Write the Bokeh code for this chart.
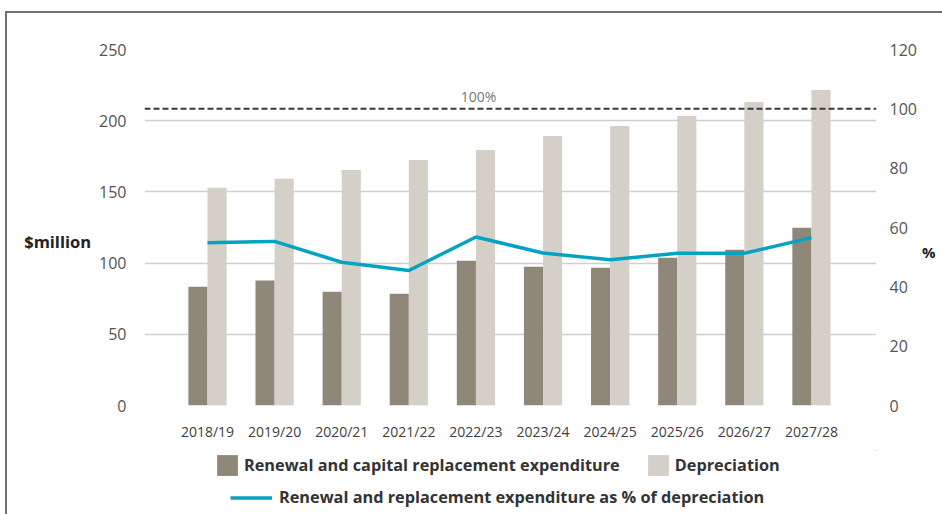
from bokeh.plotting import figure
from bokeh.layouts import column
from bokeh.models import (Range1d, LinearAxis, FixedTicker, Legend, LegendItem,
                          Span, Label, ColumnDataSource)
from bokeh.transform import dodge
from bokeh.embed import file_html
from bokeh.resources import INLINE

years = ["2018/19", "2019/20", "2020/21", "2021/22", "2022/23",
         "2023/24", "2024/25", "2025/26", "2026/27", "2027/28"]
renewal = [83.4, 87.8, 79.9, 78.5, 101.6, 97.4, 96.7, 103.7, 109.3, 124.8]
depreciation = [153.0, 159.3, 165.4, 172.4, 179.5, 189.3, 196.3, 203.3, 213.1, 221.5]
pct_of_dep = [54.9, 55.3, 48.3, 45.5, 56.8, 51.4, 49.1, 51.3, 51.3, 56.6]
left_ticks = [0, 50, 100, 150, 200, 250]
right_ticks = [0, 20, 40, 60, 80, 100, 120]
reference_pct = 100
reference_label = "100%"
legend_labels = ["Renewal and capital replacement expenditure", "Depreciation",
                 "Renewal and replacement expenditure as % of depreciation"]

DARK = "#8f8879"
LIGHT = "#d4d0c8"
TEAL = "#05a3c2"
FONT = "Open Sans"

xs = list(range(len(years)))
src = ColumnDataSource(dict(x=xs, renewal=renewal, dep=depreciation, pct=pct_of_dep))

p = figure(width=935, height=437, output_backend="svg", toolbar_location=None,
           x_range=Range1d(-0.939, 9.969), y_range=Range1d(0, 250),
           min_border_left=137, min_border_right=66, min_border_top=36,
           min_border_bottom=45)
p.outline_line_color = None
p.background_fill_color = "white"
p.extra_y_ranges = {"pct": Range1d(0, 120)}

bw = 0.285
p.vbar(x=dodge("x", -bw / 2), top="renewal", width=bw, source=src,
       fill_color=DARK, line_color=None)
p.vbar(x=dodge("x", bw / 2), top="dep", width=bw, source=src,
       fill_color=LIGHT, line_color=None)
p.line(x="x", y="pct", source=src, y_range_name="pct",
       line_color=TEAL, line_width=3.5)

p.add_layout(Span(location=reference_pct, dimension="width", y_range_name="pct",
                  line_color="#3a3a3a", line_width=2, line_dash="6 3"))
p.add_layout(Label(x=4.04, y=104, y_range_name="pct", text=reference_label,
                   text_align="center", text_baseline="middle",
                   text_font=FONT, text_font_size="14px", text_color="#767676"))

# grid
p.xgrid.grid_line_color = None
p.ygrid.grid_line_color = "#cfcfcf"
p.ygrid.grid_line_width = 1.5

# bottom axis
xa = p.xaxis[0]
xa.ticker = FixedTicker(ticks=xs)
xa.major_label_overrides = {i: y for i, y in enumerate(years)}
xa.axis_line_color = None
xa.major_tick_line_color = None
xa.minor_tick_line_color = None
xa.major_label_standoff = 10
xa.major_label_text_font = FONT
xa.major_label_text_font_size = "14px"
xa.major_label_text_color = "#404040"

# left axis
ya = p.yaxis[0]
ya.ticker = FixedTicker(ticks=left_ticks)
ya.axis_line_color = None
ya.major_tick_line_color = None
ya.minor_tick_line_color = None
ya.major_label_standoff = 12
ya.major_label_text_font = FONT
ya.major_label_text_font_size = "16px"
ya.major_label_text_color = "#555555"
ya.axis_label = "\n$million"
ya.axis_label_orientation = "horizontal"
ya.axis_label_standoff = 5
ya.axis_label_text_font = FONT
ya.axis_label_text_font_size = "16.5px"
ya.axis_label_text_font_style = "bold"
ya.axis_label_text_color = "#222222"

# right axis
ra = LinearAxis(y_range_name="pct", ticker=FixedTicker(ticks=right_ticks))
ra.axis_line_color = None
ra.major_tick_line_color = None
ra.minor_tick_line_color = None
ra.major_label_standoff = 7
ra.major_label_text_font = FONT
ra.major_label_text_font_size = "16px"
ra.major_label_text_color = "#555555"
ra.axis_label = "\n\n%"
ra.axis_label_orientation = "horizontal"
ra.axis_label_standoff = 2
ra.axis_label_text_font = FONT
ra.axis_label_text_font_size = "15px"
ra.axis_label_text_font_style = "bold"
ra.axis_label_text_color = "#222222"
p.add_layout(ra, "right")

# legend strip (separate canvas so the legend is not clipped by the plot frame);
# its key renderers reuse the same data but sit outside the strip's visible range
lf = figure(width=935, height=64, output_backend="svg", toolbar_location=None,
            x_range=Range1d(-100, -99), y_range=Range1d(-100, -99),
            x_axis_type=None, y_axis_type=None, min_border=0)
lf.outline_line_color = None
lf.grid.visible = False
k_dark = lf.vbar(x="x", top="renewal", width=bw, source=src, fill_color=DARK, line_color=None)
k_light = lf.vbar(x="x", top="dep", width=bw, source=src, fill_color=LIGHT, line_color=None)
k_line = lf.line(x="x", y="pct", source=src, line_color=TEAL, line_width=3.5)

def style_legend(lg, spacing, standoff, gw, gh):
    lg.orientation = "horizontal"
    lg.border_line_color = None
    lg.background_fill_alpha = 0
    lg.label_text_font = FONT
    lg.label_text_font_size = "16.3px"
    lg.label_text_font_style = "bold"
    lg.label_text_color = "#333333"
    lg.glyph_height = gh
    lg.glyph_width = gw
    lg.label_height = gh
    lg.margin = 0
    lg.padding = 0
    lg.spacing = spacing
    lg.label_standoff = standoff

lg1 = Legend(items=[LegendItem(label=legend_labels[0], renderers=[k_dark]),
                    LegendItem(label=legend_labels[1], renderers=[k_light])],
             location=(70, 36))
style_legend(lg1, 25, 4, 26, 26)
lg2 = Legend(items=[LegendItem(label=legend_labels[2], renderers=[k_line])],
             location=(86, 6))
style_legend(lg2, 0, 7, 42, 21)
lf.add_layout(lg1, "center")
lf.add_layout(lg2, "center")

layout = column(p, lf, spacing=0)
layout.styles = {"border-top": "2px solid #707070", "border-left": "2px solid #707070",
                 "margin-left": "5px", "margin-top": "11px"}

open("out.html", "w").write(file_html(layout, INLINE))
